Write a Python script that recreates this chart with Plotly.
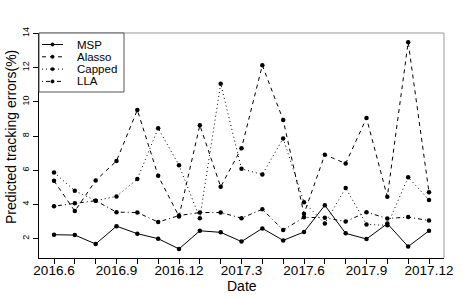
import plotly.graph_objects as go

months = ["2016.6", "2016.7", "2016.8", "2016.9", "2016.10", "2016.11", "2016.12",
          "2017.1", "2017.2", "2017.3", "2017.4", "2017.5", "2017.6", "2017.7",
          "2017.8", "2017.9", "2017.10", "2017.11", "2017.12"]
shown_labels = ["2016.6", "2016.9", "2016.12", "2017.3", "2017.6", "2017.9", "2017.12"]

msp = [2.23, 2.21, 1.69, 2.73, 2.29, 2.00, 1.40, 2.46, 2.37, 1.83, 2.60, 1.90, 2.39,
       3.95, 2.31, 1.98, 2.88, 1.54, 2.46]
alasso = [5.38, 3.61, 5.40, 6.54, 9.52, 5.67, 3.30, 8.63, 5.03, 7.29, 12.13, 8.94, 3.45,
          6.91, 6.39, 9.05, 4.45, 13.48, 4.71]
capped = [5.87, 4.80, 4.22, 4.47, 5.48, 8.45, 6.29, 3.20, 11.06, 6.08, 5.75, 7.86, 4.13,
          2.89, 4.96, 2.83, 2.78, 5.59, 4.26]
lla = [3.90, 4.07, 4.22, 3.55, 3.53, 2.97, 3.35, 3.53, 3.53, 3.20, 3.72, 2.50, 3.25,
       3.22, 3.00, 3.55, 3.18, 3.26, 3.06]

y_ticks = [2, 4, 6, 8, 10, 12, 14]

series_names = ["MSP", "Alasso", "Capped", "LLA"]
series_values = [msp, alasso, capped, lla]
series_dashes = ["solid", "4px,4px", "1px,3px", "1px,3px,4px,3px"]

FONT = "Liberation Sans, Arial, Helvetica, sans-serif"

W, H = 465, 299
ML, MR, MT, MB = 39, 21, 33, 41
PW, PH = W - ML - MR, H - MT - MB


def px_x(x):
    return (x - ML) / PW


def px_y(y):
    return (H - MB - y) / PH


fig = go.Figure()
for name, vals, dash in zip(series_names, series_values, series_dashes):
    fig.add_trace(go.Scatter(
        x=months, y=vals, name=name, mode="lines+markers",
        line=dict(color="black", width=1, dash=dash),
        marker=dict(color="black", size=4.5),
        showlegend=False,
    ))

shapes = [
    dict(type="line", xref="paper", yref="paper", x0=0, x1=1, y0=1, y1=1,
         line=dict(color="#999", width=1)),
    dict(type="line", xref="paper", yref="paper", x0=1, x1=1, y0=0, y1=1,
         line=dict(color="#999", width=1)),
    # legend box
    dict(type="rect", xref="paper", yref="paper",
         x0=px_x(39), x1=px_x(124), y0=px_y(92), y1=px_y(33),
         line=dict(color="#555", width=1), fillcolor="white", layer="above"),
]
annotations = []
for i, (name, dash) in enumerate(zip(series_names, series_dashes)):
    yy = 44.5 + i * 12.3
    shapes.append(dict(type="line", xref="paper", yref="paper",
                       x0=px_x(42), x1=px_x(63), y0=px_y(yy), y1=px_y(yy),
                       line=dict(color="black", width=1, dash=dash), layer="above"))
    shapes.append(dict(type="circle", xref="paper", yref="paper",
                       x0=px_x(50.8), x1=px_x(54.2), y0=px_y(yy + 1.7), y1=px_y(yy - 1.7),
                       line=dict(color="black", width=0.5), fillcolor="black", layer="above"))
    annotations.append(dict(text=name, xref="paper", yref="paper",
                            x=px_x(75), y=px_y(yy), xanchor="left", yanchor="middle",
                            showarrow=False, font=dict(size=11.5, family=FONT, color="black")))

annotations.append(dict(text="Date", xref="paper", yref="paper",
                        x=0.5, y=px_y(285.5), xanchor="center", yanchor="middle",
                        showarrow=False, font=dict(size=14, family=FONT, color="black")))
annotations.append(dict(text="Predicted tracking errors(%)", xref="paper", yref="paper",
                        x=px_x(11), y=px_y(137), xanchor="center", yanchor="middle",
                        textangle=-90, showarrow=False,
                        font=dict(size=14, family=FONT, color="black")))

fig.update_layout(
    width=W, height=H,
    margin=dict(l=ML, r=MR, t=MT, b=MB, autoexpand=False),
    paper_bgcolor="white", plot_bgcolor="white",
    font=dict(family=FONT, color="black"),
    showlegend=False,
    xaxis=dict(
        type="category", categoryorder="array", categoryarray=months,
        range=[-0.72, 18.72], automargin=False,
        tickmode="array", tickvals=months,
        ticktext=[m if m in shown_labels else "" for m in months],
        ticks="outside", ticklen=5, tickcolor="black", tickwidth=1,
        ticklabelstandoff=-5,
        showline=True, linecolor="black", linewidth=1,
        showgrid=False, zeroline=False,
        tickfont=dict(size=13.5, family=FONT),
    ),
    yaxis=dict(
        range=[0.87, 14.02], automargin=False,
        tickmode="array", tickvals=y_ticks, ticktext=[str(t) for t in y_ticks],
        tickangle=-90,
        ticks="outside", ticklen=5, tickcolor="black", tickwidth=1,
        showline=True, linecolor="black", linewidth=1,
        showgrid=False, zeroline=False,
        tickfont=dict(size=9, family=FONT),
    ),
    shapes=shapes,
    annotations=annotations,
)

fig.write_html(
    "out.html",
    config={"displayModeBar": False},
    post_script="document.body.style.margin='0';document.body.style.overflow='hidden';",
)
